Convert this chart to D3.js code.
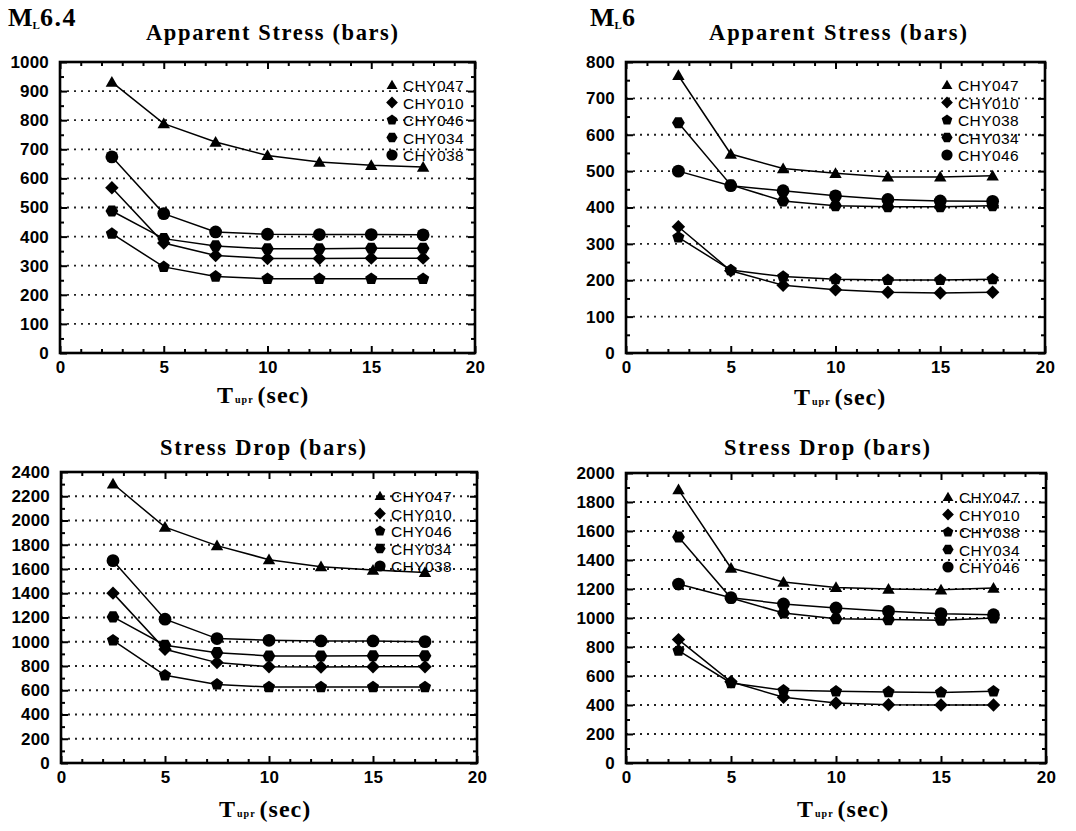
<!DOCTYPE html>
<html>
<head>
<meta charset="utf-8">
<script src="https://cdn.jsdelivr.net/npm/d3@7"></script>
<style>
  html, body { margin: 0; padding: 0; background: #fff; }
  svg { display: block; }
</style>
</head>
<body>
<svg id="chart" width="1076" height="831"></svg>
<script>
// ---------- DATA ----------
const tupr = [2.5, 5, 7.5, 10, 12.5, 15, 17.5];
const xTicks = [0, 5, 10, 15, 20];

// Panel A: ML 6.4, Apparent Stress (bars)
const stationsA = ["CHY047", "CHY010", "CHY046", "CHY034", "CHY038"];
const a_CHY047 = [931, 788, 725, 679, 656, 645, 639];
const a_CHY010 = [568, 378, 335, 325, 325, 326, 326];
const a_CHY046 = [410, 296, 263, 255, 255, 255, 255];
const a_CHY034 = [488, 393, 368, 358, 358, 360, 360];
const a_CHY038 = [674, 479, 416, 408, 407, 407, 406];
const yTicksA = [0, 100, 200, 300, 400, 500, 600, 700, 800, 900, 1000];

// Panel B: ML 6, Apparent Stress (bars)
const stationsB = ["CHY047", "CHY010", "CHY038", "CHY034", "CHY046"];
const b_CHY047 = [763, 547, 507, 494, 484, 484, 487];
const b_CHY010 = [347, 226, 186, 174, 167, 165, 167];
const b_CHY038 = [318, 228, 210, 203, 201, 201, 203];
const b_CHY034 = [633, 462, 418, 405, 402, 402, 405];
const b_CHY046 = [500, 460, 446, 432, 422, 418, 417];
const yTicksB = [0, 100, 200, 300, 400, 500, 600, 700, 800];

// Panel C: ML 6.4, Stress Drop (bars)
const stationsC = ["CHY047", "CHY010", "CHY046", "CHY034", "CHY038"];
const c_CHY047 = [2303, 1945, 1793, 1677, 1619, 1592, 1572];
const c_CHY010 = [1401, 938, 828, 794, 792, 794, 794];
const c_CHY046 = [1012, 723, 648, 626, 626, 626, 626];
const c_CHY034 = [1205, 971, 910, 883, 883, 885, 885];
const c_CHY038 = [1669, 1186, 1026, 1012, 1007, 1007, 1001];
const yTicksC = [0, 200, 400, 600, 800, 1000, 1200, 1400, 1600, 1800, 2000, 2200, 2400];

// Panel D: ML 6, Stress Drop (bars)
const stationsD = ["CHY047", "CHY010", "CHY038", "CHY034", "CHY046"];
const d_CHY047 = [1885, 1345, 1248, 1211, 1200, 1195, 1207];
const d_CHY010 = [851, 560, 453, 414, 402, 400, 400];
const d_CHY038 = [775, 552, 501, 494, 490, 487, 494];
const d_CHY034 = [1559, 1138, 1034, 995, 989, 984, 1000];
const d_CHY046 = [1234, 1140, 1097, 1069, 1046, 1030, 1023];
const yTicksD = [0, 200, 400, 600, 800, 1000, 1200, 1400, 1600, 1800, 2000];

// marker shape per legend row (triangle, diamond, pentagon, hexagon, circle)
const markerShapes = ["triangle", "diamond", "pentagon", "hexagon", "circle"];

// ---------- DRAWING ----------
const svg = d3.select("#chart");
const TICKFONT = "Liberation Sans, Arial, Helvetica, sans-serif";
const SERIF = "Liberation Serif, Times New Roman, serif";

function shapePath(type, r) {
  const p = d3.path();
  if (type === "circle") {
    p.arc(0, 0, r, 0, 2 * Math.PI);
    return p.toString();
  }
  let n, rot, rr = r;
  if (type === "triangle") { n = 3; rot = -Math.PI / 2; rr = r * 1.12; }
  else if (type === "diamond") { n = 4; rot = -Math.PI / 2; rr = r * 1.05; }
  else if (type === "pentagon") { n = 5; rot = -Math.PI / 2; rr = r * 1.0; }
  else { n = 6; rot = 0; rr = r * 1.0; }
  for (let i = 0; i < n; i++) {
    const ang = rot + i * 2 * Math.PI / n;
    const x = rr * Math.cos(ang), y = rr * Math.sin(ang) + (type === "triangle" ? rr * 0.15 : 0);
    if (i === 0) p.moveTo(x, y); else p.lineTo(x, y);
  }
  p.closePath();
  return p.toString();
}

function drawPanel(cfg) {
  const { left, right, top, bottom, yMax, yTicks, yStep, series, names,
          title, titleX, titleY, titleLen, xlabX, xlabY, legX, legY } = cfg;
  const x = d3.scaleLinear().domain([0, 20]).range([left, right]);
  const y = d3.scaleLinear().domain([0, yMax]).range([bottom, top]);
  const g = svg.append("g");

  // grid (dotted horizontal)
  g.append("g").selectAll("line")
    .data(yTicks.filter(v => v > 0 && v < yMax))
    .join("line")
    .attr("x1", left).attr("x2", right)
    .attr("y1", d => y(d)).attr("y2", d => y(d))
    .attr("stroke", "#222").attr("stroke-width", 1.8)
    .attr("stroke-dasharray", "2,5");

  const minorX = d3.range(0, 21, 1).filter(v => v % 5 !== 0);
  const minorY = d3.range(yStep / 2, yMax, yStep);

  function styleAxis(sel) {
    sel.select(".domain").remove();
    sel.selectAll(".tick line").attr("stroke", "#000").attr("stroke-width", 2);
  }
  function styleText(sel) {
    sel.attr("font-family", TICKFONT).attr("font-size", 17);
    sel.selectAll("text")
      .attr("font-family", TICKFONT).attr("font-weight", 700)
      .attr("font-size", 17).attr("letter-spacing", 0.2).attr("fill", "#000");
  }
  // bottom
  g.append("g").attr("transform", `translate(0,${bottom})`)
    .call(d3.axisBottom(x).tickValues(xTicks).tickSizeInner(-7).tickSizeOuter(0).tickPadding(8).tickFormat(d3.format("d")))
    .call(styleAxis).call(styleText);
  g.append("g").attr("transform", `translate(0,${bottom})`)
    .call(d3.axisBottom(x).tickValues(minorX).tickSizeInner(-4).tickSizeOuter(0).tickFormat(""))
    .call(styleAxis);
  // top
  g.append("g").attr("transform", `translate(0,${top})`)
    .call(d3.axisTop(x).tickValues(xTicks).tickSizeInner(-7).tickSizeOuter(0).tickFormat(""))
    .call(styleAxis);
  g.append("g").attr("transform", `translate(0,${top})`)
    .call(d3.axisTop(x).tickValues(minorX).tickSizeInner(-4).tickSizeOuter(0).tickFormat(""))
    .call(styleAxis);
  // left
  g.append("g").attr("transform", `translate(${left},0)`)
    .call(d3.axisLeft(y).tickValues(yTicks).tickSizeInner(-7).tickSizeOuter(0).tickPadding(11).tickFormat(d3.format("d")))
    .call(styleAxis).call(styleText);
  g.append("g").attr("transform", `translate(${left},0)`)
    .call(d3.axisLeft(y).tickValues(minorY).tickSizeInner(-4).tickSizeOuter(0).tickFormat(""))
    .call(styleAxis);
  // right
  g.append("g").attr("transform", `translate(${right},0)`)
    .call(d3.axisRight(y).tickValues(yTicks).tickSizeInner(-7).tickSizeOuter(0).tickFormat(""))
    .call(styleAxis);
  g.append("g").attr("transform", `translate(${right},0)`)
    .call(d3.axisRight(y).tickValues(minorY).tickSizeInner(-4).tickSizeOuter(0).tickFormat(""))
    .call(styleAxis);

  // frame
  g.append("rect").attr("x", left).attr("y", top)
    .attr("width", right - left).attr("height", bottom - top)
    .attr("fill", "none").attr("stroke", "#000").attr("stroke-width", 2.6);

  // lines and markers
  const line = d3.line().x((d, i) => x(tupr[i])).y(d => y(d));
  series.forEach((vals) => {
    g.append("path").attr("d", line(vals))
      .attr("fill", "none").attr("stroke", "#000").attr("stroke-width", 1.5);
  });
  series.forEach((vals, k) => {
    g.append("g").selectAll("path")
      .data(vals).join("path")
      .attr("transform", (d, i) => `translate(${x(tupr[i])},${y(d)})`)
      .attr("d", shapePath(markerShapes[k], 6.4))
      .attr("fill", "#000");
  });

  // legend
  const leg = g.append("g").attr("transform", `translate(${legX},${legY})`);
  names.forEach((nm, k) => {
    const row = leg.append("g").attr("transform", `translate(0,${k * 17.5})`);
    row.append("path").attr("d", shapePath(markerShapes[k], 5.6)).attr("fill", "#000");
    row.append("text").attr("x", 11).attr("y", 6)
      .attr("font-family", TICKFONT)
      .attr("font-size", 15.5).attr("letter-spacing", 0.4)
      .attr("fill", "#000").text(nm);
  });

  // title
  g.append("text").attr("x", titleX).attr("y", titleY)
    .attr("text-anchor", "middle")
    .attr("font-family", SERIF)
    .attr("font-weight", "bold").attr("font-size", 22.5)
    .attr("textLength", titleLen).attr("lengthAdjust", "spacing")
    .attr("fill", "#000").text(title);

  // x-axis label T_upr (sec)
  const xl = g.append("text").attr("x", xlabX).attr("y", xlabY)
    .attr("font-family", SERIF)
    .attr("font-weight", "bold").attr("font-size", 24).attr("fill", "#000");
  xl.append("tspan").text("T");
  xl.append("tspan").attr("font-size", 10).attr("dx", 2).attr("letter-spacing", 1).text("upr");
  xl.append("tspan").attr("dx", 4).attr("letter-spacing", 1).text("(sec)");
}

function magLabel(xPos, yPos, value) {
  const t = svg.append("text").attr("x", xPos).attr("y", yPos)
    .attr("font-family", SERIF)
    .attr("font-weight", "bold").attr("font-size", 26).attr("fill", "#000");
  t.append("tspan").text("M");
  t.append("tspan").attr("font-size", 11).attr("dy", 3).text("L");
  t.append("tspan").attr("dy", -3).attr("letter-spacing", 1.5).text(value);
}

drawPanel({
  left: 60, right: 475, top: 62, bottom: 353, yMax: 1000, yStep: 100, yTicks: yTicksA,
  series: [a_CHY047, a_CHY010, a_CHY046, a_CHY034, a_CHY038], names: stationsA,
  title: "Apparent Stress (bars)", titleX: 272, titleY: 40, titleLen: 252,
  xlabX: 217, xlabY: 403, legX: 392, legY: 85
});
drawPanel({
  left: 626, right: 1045, top: 62, bottom: 353, yMax: 800, yStep: 100, yTicks: yTicksB,
  series: [b_CHY047, b_CHY010, b_CHY038, b_CHY034, b_CHY046], names: stationsB,
  title: "Apparent Stress (bars)", titleX: 838, titleY: 40, titleLen: 258,
  xlabX: 794, xlabY: 405, legX: 947, legY: 85
});
drawPanel({
  left: 61, right: 477, top: 472, bottom: 763, yMax: 2400, yStep: 200, yTicks: yTicksC,
  series: [c_CHY047, c_CHY010, c_CHY046, c_CHY034, c_CHY038], names: stationsC,
  title: "Stress Drop (bars)", titleX: 263, titleY: 455, titleLen: 206,
  xlabX: 219, xlabY: 817, legX: 380, legY: 496
});
drawPanel({
  left: 626, right: 1046, top: 473, bottom: 763, yMax: 2000, yStep: 200, yTicks: yTicksD,
  series: [d_CHY047, d_CHY010, d_CHY038, d_CHY034, d_CHY046], names: stationsD,
  title: "Stress Drop (bars)", titleX: 827, titleY: 455, titleLen: 206,
  xlabX: 797, xlabY: 817, legX: 948, legY: 497
});

magLabel(8, 26, "6.4");
magLabel(590, 26, "6");
</script>
</body>
</html>
